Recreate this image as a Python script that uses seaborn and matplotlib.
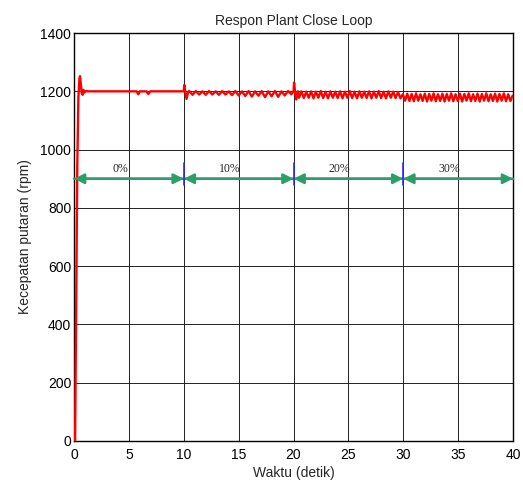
import numpy as np
import pandas as pd
import matplotlib
matplotlib.use("Agg")
import matplotlib.pyplot as plt
import seaborn as sns

# ---------------- data ----------------
# start-up and load-free part (0 - 10 s)
t_start = [0.0, 0.1, 0.2, 0.3, 0.4, 0.5, 0.55, 0.62, 0.7, 0.78, 0.86, 0.95, 1.1, 1.3,
           5.7, 5.86, 6.0, 6.6, 6.77, 6.95, 9.95]
y_start = [0, 0, 500, 950, 1180, 1245, 1252, 1225, 1195, 1188, 1205, 1196, 1201, 1200,
           1200, 1190, 1200, 1200, 1191, 1200, 1200]

# 10% load (10 - 20 s)
t_b_head = [10.0, 10.05, 10.15, 10.25, 10.4]
y_b_head = [1200, 1222, 1195, 1174, 1198]
b_start, b_step = 10.5, 0.3
y_b = [1201, 1188, 1201, 1189, 1200, 1188, 1201, 1189, 1200, 1188, 1201, 1189, 1200, 1187,
       1201, 1186, 1200, 1184, 1201, 1182, 1200, 1185, 1201, 1180, 1200, 1183, 1201, 1181,
       1200, 1186, 1201, 1190]

# 20% load (20 - 30 s)
t_c_head = [20.0, 20.05, 20.15, 20.25, 20.4]
y_c_head = [1200, 1230, 1195, 1172, 1200]
c_start, c_step = 20.5, 0.22
y_c = [1178, 1200, 1177, 1199, 1178, 1200, 1176, 1199, 1178, 1201, 1177, 1199, 1176, 1200,
       1178, 1199, 1177, 1200, 1176, 1199, 1178, 1201, 1177, 1199, 1176, 1200, 1178, 1199,
       1177, 1200, 1176, 1199, 1178, 1201, 1177, 1199, 1176, 1200, 1178, 1199, 1177, 1198,
       1176]

# 30% load (30 - 40 s)
d_start, d_step = 29.96, 0.2
y_d = [1190, 1168, 1192, 1167, 1191, 1166, 1193, 1168, 1190, 1167, 1192, 1165, 1191, 1168,
       1193, 1166, 1190, 1167, 1192, 1165, 1191, 1168, 1193, 1166, 1190, 1167, 1192, 1165,
       1191, 1168, 1193, 1166, 1190, 1167, 1192, 1165, 1191, 1168, 1193, 1166, 1190, 1167,
       1192, 1165, 1191, 1168, 1193, 1166, 1190, 1167, 1185]

seg_bounds = [(0, 10), (10, 20), (20, 30), (30, 40)]
seg_labels = ["0%", "10%", "20%", "30%"]
arrow_level = 900
marker_x = [10, 20, 30]

xticks = [0, 5, 10, 15, 20, 25, 30, 35, 40]
yticks = [0, 200, 400, 600, 800, 1000, 1200, 1400]

# ---------------- assemble ----------------
t_b = list(np.round(b_start + b_step * np.arange(len(y_b)), 3))
t_c = list(np.round(c_start + c_step * np.arange(len(y_c)), 3))
t_d = list(np.round(d_start + d_step * np.arange(len(y_d)), 3))
t_all = t_start + t_b_head + t_b + t_c_head + t_c + t_d
y_all = y_start + y_b_head + y_b + y_c_head + y_c + y_d
df = pd.DataFrame({"t": t_all, "rpm": y_all})

# ---------------- plot ----------------
sns.set_style("white")
plt.rcParams["font.family"] = ["Liberation Sans", "DejaVu Sans"]

fig = plt.figure(figsize=(5.23, 4.86), dpi=100)
ax = fig.add_axes([0.1415, 0.0926, 0.981 - 0.1415, 0.932 - 0.0926])

sns.lineplot(data=df, x="t", y="rpm", ax=ax, color="#ff0000", lw=1.7,
             estimator=None, sort=False, zorder=3)

green = "#2e9e68"
for (a, b), lab in zip(seg_bounds, seg_labels):
    ax.annotate("", xy=(b, arrow_level), xytext=(a, arrow_level),
                arrowprops=dict(arrowstyle="-|>,head_length=0.6,head_width=0.3",
                                color=green, lw=1.8, shrinkA=0, shrinkB=0), zorder=4)
    ax.annotate("", xy=(a, arrow_level), xytext=(b, arrow_level),
                arrowprops=dict(arrowstyle="-|>,head_length=0.6,head_width=0.3",
                                color=green, lw=1.8, shrinkA=0, shrinkB=0), zorder=4)
    ax.text((a + b) / 2 - 0.8, arrow_level + 12, lab, ha="center", va="bottom",
            fontsize=8.5, family=["Liberation Serif", "DejaVu Serif"], zorder=5)

for xm in marker_x:
    ax.plot([xm, xm], [880, 955], color="#2a2aff", lw=1.2, zorder=5)

ax.set_xlim(0, 40)
ax.set_ylim(0, 1400)
ax.set_xticks(xticks)
ax.set_yticks(yticks)
ax.grid(True, color="#222222", lw=0.7)
ax.set_axisbelow(True)
for s in ax.spines.values():
    s.set_visible(True)
    s.set_color("black")
    s.set_linewidth(1.0)
ax.tick_params(direction="in", length=0, labelsize=10, colors="black")
ax.tick_params(axis="x", pad=5)
ax.tick_params(axis="y", pad=2)
ax.set_xlabel("Waktu (detik)", fontsize=10, labelpad=3)
ax.set_ylabel("Kecepatan putaran (rpm)", fontsize=10, labelpad=6)
ax.set_title("Respon Plant Close Loop", fontsize=10, pad=6)

fig.savefig("out.png", dpi=100)
